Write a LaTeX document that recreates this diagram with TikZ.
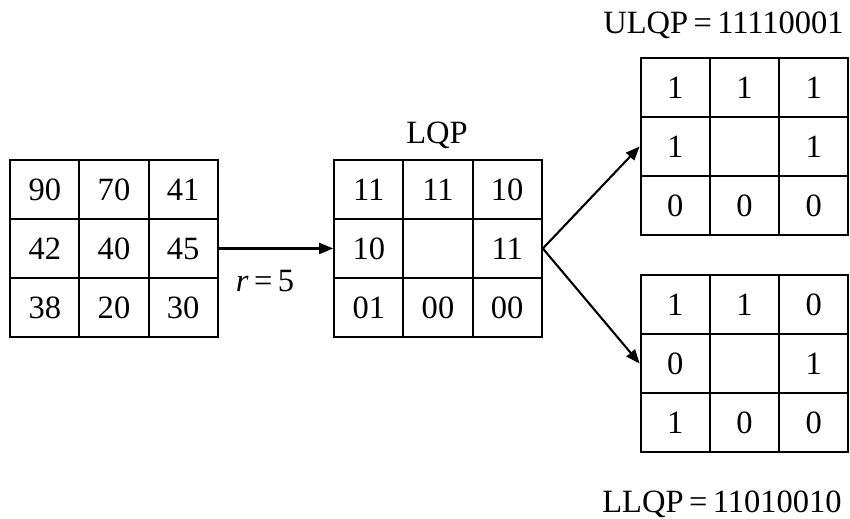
\documentclass[tikz,border=0pt]{standalone}
\usepackage{fontspec}
\setmainfont{Liberation Serif}
\usetikzlibrary{arrows.meta}

% 3x3 block of cells: #1 name, #2,#3 centre of the middle cell, #4 entries row by row
\newcommand{\codegrid}[4]{%
  \foreach \e [count=\k from 0] in {#4} {
    \pgfmathtruncatemacro{\gRow}{\k/3}
    \pgfmathtruncatemacro{\gCol}{mod(\k,3)}
    \node[cell] (#1-\gRow-\gCol) at ([shift={(\gCol*69.2-69.2,\gRow*59-59)}]#2,#3) {\e};
  }%
}

\begin{document}
\begin{tikzpicture}[
  x=0.02cm, y=-0.02cm,
  every node/.style={font=\fontsize{18.5}{22}\selectfont, black},
  cell/.style={draw, line width=1.2pt, minimum width=1.384cm, minimum height=1.18cm,
    inner sep=0pt, anchor=center},
  link/.style={line width=1.2pt, -{Triangle[length=0.28cm, width=0.22cm]}}
]
  \useasboundingbox (0,0) rectangle (850,519);

  %% ---- pixel block and its local pattern ------------------------------
  \codegrid{px}{114}{248.5}{90,70,41,42,40,45,38,20,30}
  \codegrid{lqp}{438}{248.5}{11,11,10,10,{},11,01,00,00}
  \node[anchor=base] (lqplabel) at (437,144) {LQP};

  %% ---- upper and lower patterns ---------------------------------------
  \codegrid{up}{744.5}{146.5}{1,1,1,1,{},1,0,0,0}
  \codegrid{lo}{744.5}{363.5}{1,1,0,0,{},1,1,0,0}
  \node[anchor=base] (uplabel) at (723.5,34) {ULQP\,=\,11110001};
  \node[anchor=base] (lolabel) at (722,513) {LLQP\,=\,11010010};

  %% ---- arrows ----------------------------------------------------------
  \draw[link] (px-1-2.east) -- (lqp-1-0.west);
  \node[anchor=base] (rlabel) at (265,292) {\textit{r}\,=\,5};
  \draw[link] (lqp-1-2.east) -- (up-1-0.west);
  \draw[link] (lqp-1-2.east) -- (lo-1-0.west);

\end{tikzpicture}
\end{document}
